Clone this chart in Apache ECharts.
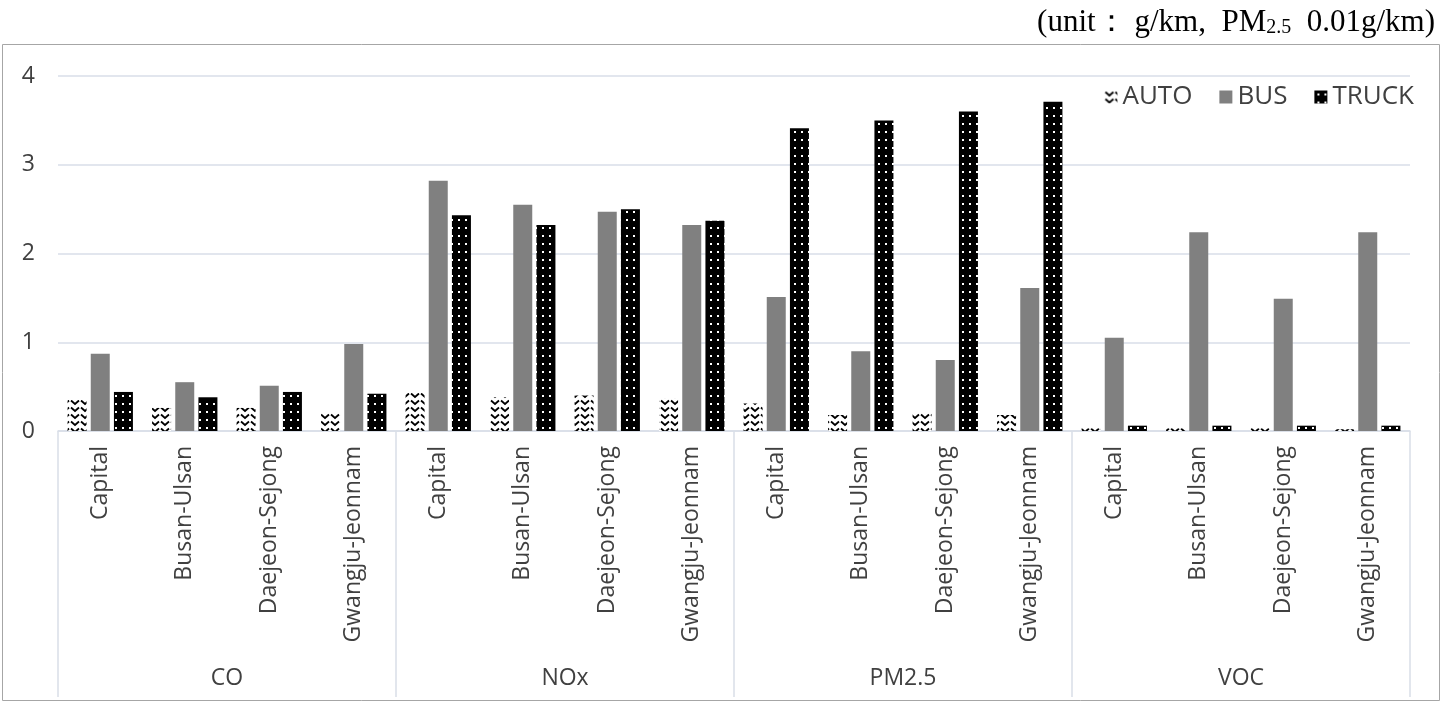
<!DOCTYPE html>
<html><head><meta charset="utf-8">
<script src="https://cdn.jsdelivr.net/npm/echarts@6/dist/echarts.min.js"></script>
<style>html,body{margin:0;padding:0;background:#fff;}#c{width:1443px;height:703px;}</style>
</head><body><div id="c"></div>
<script>
const groups = ['CO', 'NOx', 'PM2.5', 'VOC'];
const regions = ['Capital', 'Busan-Ulsan', 'Daejeon-Sejong', 'Gwangju-Jeonnam'];
const seriesNames = ['AUTO', 'BUS', 'TRUCK'];
const autoVals  = [0.35, 0.26, 0.26, 0.20, 0.43, 0.38, 0.40, 0.37, 0.31, 0.18, 0.20, 0.18, 0.03, 0.03, 0.03, 0.02];
const busVals   = [0.87, 0.55, 0.51, 0.98, 2.82, 2.55, 2.47, 2.32, 1.51, 0.90, 0.80, 1.61, 1.05, 2.24, 1.49, 2.24];
const truckVals = [0.44, 0.38, 0.44, 0.42, 2.43, 2.32, 2.50, 2.37, 3.41, 3.50, 3.60, 3.71, 0.06, 0.06, 0.06, 0.06];
const yTicks = [0, 1, 2, 3, 4];

const cats = [];
groups.forEach(g => regions.forEach(r => cats.push(r)));

function autoPattern() {
  const c = document.createElement('canvas'); c.width = 10; c.height = 7;
  const g = c.getContext('2d');
  g.fillStyle = '#fff'; g.fillRect(0, 0, 10, 7);
  g.strokeStyle = '#000'; g.lineWidth = 1.8;
  g.beginPath(); g.moveTo(1, 1.5); g.lineTo(5, 5); g.lineTo(9, 1.5); g.stroke();
  return c;
}
function truckPattern() {
  const c = document.createElement('canvas'); c.width = 7; c.height = 8;
  const g = c.getContext('2d');
  g.fillStyle = '#000'; g.fillRect(0, 0, 7, 8);
  g.fillStyle = '#fff'; g.fillRect(3, 3, 2, 2);
  return c;
}

const chart = echarts.init(document.getElementById('c'), null, {renderer: 'canvas'});
const gridColor = '#d9dee8';
const font = '"Open Sans", "Noto Sans", sans-serif';
const serif = '"Liberation Serif", "DejaVu Serif", serif';
chart.setOption({
  animation: false,
  title: {
    right: 3, top: 2,
    text: '{a|(unit： g/km,  PM}{s|2.5}{a|  0.01g/km)}',
    textStyle: {
      rich: {
        a: {fontFamily: serif, fontSize: 31, fontWeight: 'normal', color: '#000'},
        s: {fontFamily: serif, fontSize: 20, fontWeight: 'normal', color: '#000', verticalAlign: 'bottom', padding: [11, 0, 0, 0]}
      }
    }
  },
  graphic: [{
    type: 'rect', shape: {x: 2.5, y: 44.5, width: 1437, height: 656},
    style: {fill: 'none', stroke: '#a6a6a6', lineWidth: 1}, silent: true, z: -1
  }],
  legend: {
    right: 24, top: 79, itemWidth: 13, itemHeight: 13, itemGap: 27,
    icon: 'rect',
    textStyle: {fontFamily: font, fontSize: 26, color: '#404040'},
    data: seriesNames
  },
  grid: {left: 58, right: 33, top: 76, bottom: 272},
  xAxis: [{
    type: 'category', data: cats,
    axisLine: {show: true, lineStyle: {color: gridColor, width: 1.5}},
    axisTick: {show: false},
    axisLabel: {interval: 0, rotate: 90, margin: 15, fontFamily: font, fontSize: 23, color: '#404040'}
  }, {
    type: 'category', data: groups, position: 'bottom',
    axisLine: {show: false},
    axisTick: {show: true, length: 266, interval: 0, lineStyle: {color: gridColor, width: 1.5}},
    axisLabel: {interval: 0, margin: 236, fontFamily: font, fontSize: 23, color: '#404040'}
  }],
  yAxis: {
    type: 'value', min: 0, max: 4, interval: 1,
    axisLine: {show: false}, axisTick: {show: false},
    splitLine: {lineStyle: {color: gridColor, width: 1.5}},
    axisLabel: {margin: 23, fontFamily: font, fontSize: 23, color: '#404040',
      formatter: v => yTicks.includes(v) ? String(v) : ''}
  },
  series: [
    {name: 'AUTO', type: 'bar', data: autoVals, barWidth: 19, barGap: '22%',
      itemStyle: {color: {image: autoPattern(), repeat: 'repeat'}}},
    {name: 'BUS', type: 'bar', data: busVals, barWidth: 19, barGap: '22%',
      itemStyle: {color: '#808080'}},
    {name: 'TRUCK', type: 'bar', data: truckVals, barWidth: 19, barGap: '22%',
      itemStyle: {color: {image: truckPattern(), repeat: 'repeat'}}}
  ]
});
</script></body></html>
